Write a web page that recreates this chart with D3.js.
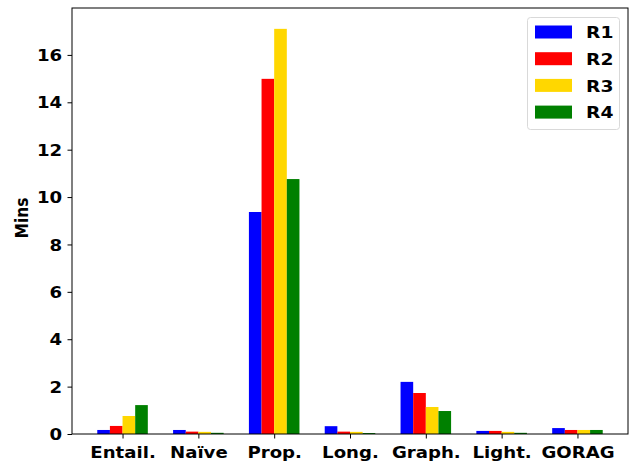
<!DOCTYPE html>
<html><head><meta charset="utf-8">
<script src="https://cdn.jsdelivr.net/npm/d3@7"></script>
<style>
body{margin:0;background:#fff;}
text{font-family:"DejaVu Sans",sans-serif;font-weight:bold;}
</style></head>
<body><svg id="c" width="634" height="462"></svg>
<script>
const categories = ["Entail.", "Naïve", "Prop.", "Long.", "Graph.", "Light.", "GORAG"];
const seriesNames = ["R1", "R2", "R3", "R4"];
const seriesColors = ["#0000ff", "#ff0000", "#ffd700", "#008000"];
const R1 = [0.17, 0.17, 9.37, 0.33, 2.20, 0.13, 0.25];
const R2 = [0.34, 0.10, 14.99, 0.10, 1.73, 0.13, 0.17];
const R3 = [0.76, 0.09, 17.10, 0.09, 1.14, 0.09, 0.17];
const R4 = [1.22, 0.05, 10.76, 0.04, 0.97, 0.05, 0.17];
const yTicks = [0, 2, 4, 6, 8, 10, 12, 14, 16];
const series = [R1, R2, R3, R4];

const SX = 1.17; // horizontal text stretch seen in the reference
const svg = d3.select("#c");
const L = 72, R = 628, T = 8, B = 434;
const barW = 1/6;
const x = d3.scaleLinear().domain([-2/3, categories.length - 1 + 2/3]).range([L, R]);
const y = d3.scaleLinear().domain([0, 17.98]).range([B, T]);

// bars
series.forEach((vals, si) => {
  svg.append("g").selectAll("rect").data(vals).join("rect")
    .attr("x", (d, i) => x(i + (si - 2) * barW))
    .attr("width", x(barW) - x(0))
    .attr("y", d => y(d))
    .attr("height", d => y(0) - y(d))
    .attr("fill", seriesColors[si]);
});

// frame
svg.append("rect").attr("x", L).attr("y", T).attr("width", R - L).attr("height", B - T)
  .attr("fill", "none").attr("stroke", "#000").attr("stroke-width", 1);

// y axis
const ya = svg.append("g").attr("transform", `translate(${L},0)`)
  .call(d3.axisLeft(y).tickValues(yTicks).tickSize(4.5).tickPadding(5).tickFormat(d3.format("d")));
ya.select(".domain").remove();
ya.selectAll(".tick line").attr("stroke", "#000");
ya.selectAll("text").attr("font-size", 15.5).attr("font-family", "DejaVu Sans").attr("font-weight", "bold").attr("fill", "#000")
  .attr("x", -9.8 / SX).attr("dy", "0.36em").attr("transform", `scale(${SX},1)`);

// x axis
const xa = svg.append("g").attr("transform", `translate(0,${B})`)
  .call(d3.axisBottom(x).tickValues(d3.range(categories.length)).tickSize(4.5).tickPadding(4).tickFormat(i => categories[i]));
xa.select(".domain").remove();
xa.selectAll(".tick line").attr("stroke", "#000");
xa.selectAll("text").attr("font-size", 15.5).attr("font-family", "DejaVu Sans").attr("font-weight", "bold").attr("fill", "#000")
  .attr("y", 24).attr("dy", 0).attr("transform", `scale(${SX},1)`);

// y label
svg.append("text").attr("transform", `translate(28,218) scale(${SX},1) rotate(-90)`)
  .attr("text-anchor", "middle").attr("font-size", 15.5).text("Mins");

// legend
const lg = svg.append("g");
lg.append("rect").attr("x", 527.5).attr("y", 17.5).attr("width", 92).attr("height", 112).attr("rx", 3)
  .attr("fill", "#fff").attr("fill-opacity", 0.8).attr("stroke", "#d9d9d9");
seriesNames.forEach((n, i) => {
  const cy = 32 + i * 26.7;
  lg.append("rect").attr("x", 535).attr("y", cy - 6.5).attr("width", 37).attr("height", 13).attr("fill", seriesColors[i]);
  lg.append("text").attr("transform", `translate(586,${cy + 6.3}) scale(${SX},1)`).attr("font-size", 16).text(n);
});
</script></body></html>
